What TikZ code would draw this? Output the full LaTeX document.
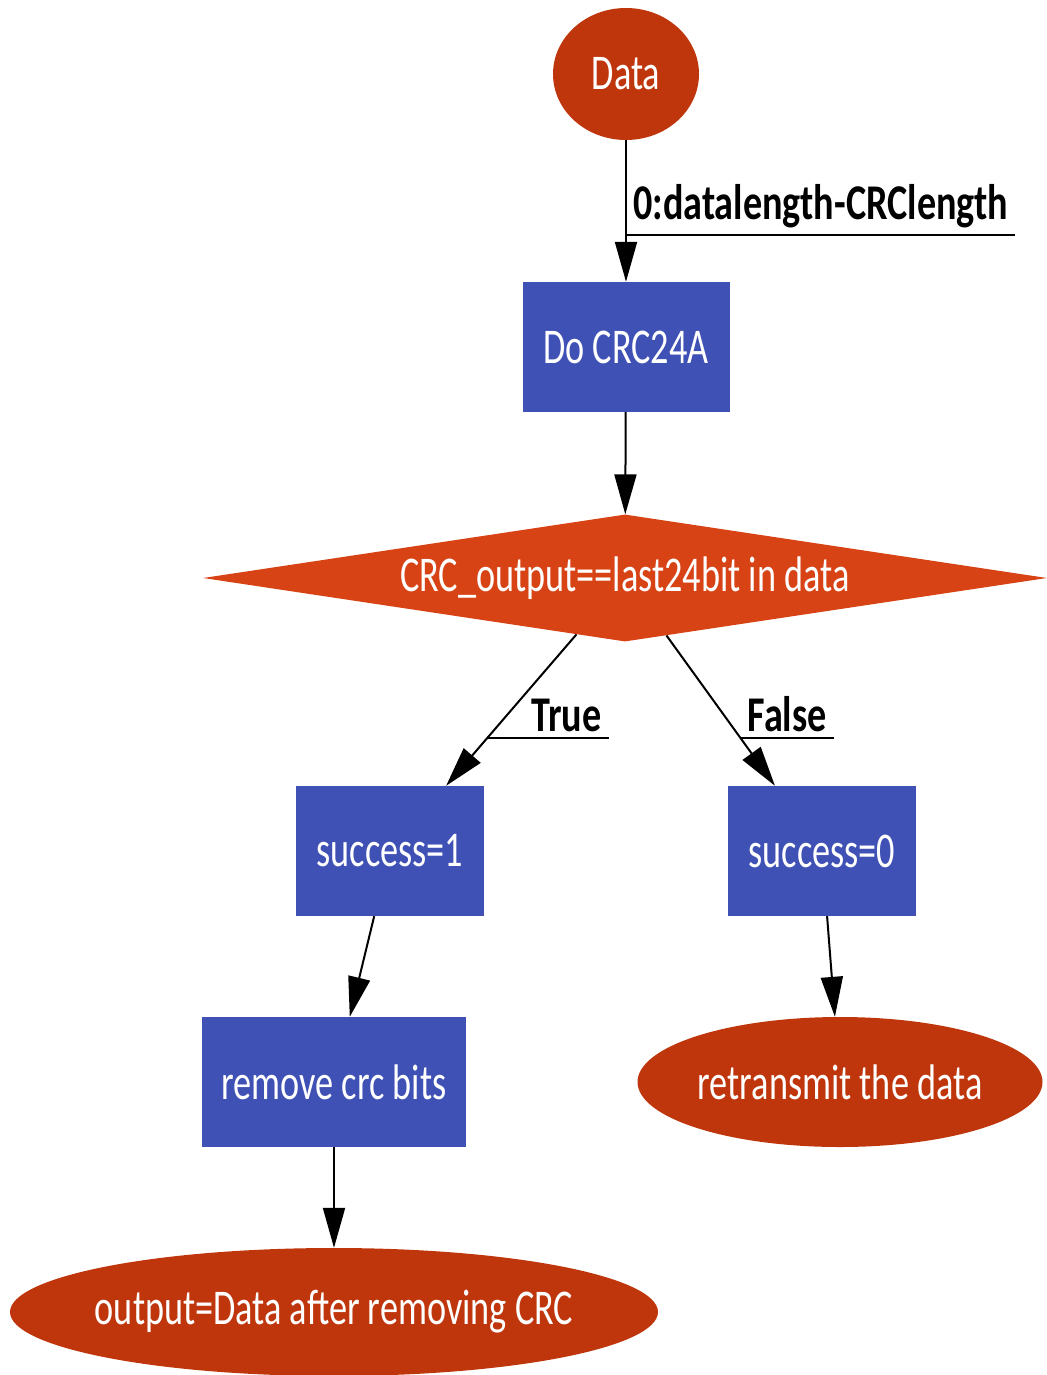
\documentclass[tikz,border=0pt]{standalone}
\usepackage{fontspec}
\setmainfont{Carlito}[FakeStretch=0.725]
\newfontfamily\edgefont{Carlito}[FakeStretch=0.763]
\usetikzlibrary{shapes.geometric,arrows.meta,calc}
\definecolor{boxblue}{HTML}{3F51B5}
\definecolor{termred}{HTML}{BF360C}
\definecolor{decorange}{HTML}{D84315}
% text of zero width, so that an ellipse keeps the size it is given
\newcommand{\zw}[1]{\makebox[0pt][c]{#1}}

\begin{document}
\begin{tikzpicture}[x=1pt,y=-1pt,
  every node/.style={inner sep=0pt},
  txt/.style={font=\fontsize{50}{60}\selectfont, text=white},
  proc/.style={txt, rectangle, fill=boxblue, minimum height=130pt},
  term/.style={txt, ellipse, fill=termred},
  decide/.style={txt, diamond, fill=decorange},
  lab/.style={font=\edgefont\fontsize{50}{60}\selectfont\bfseries, text=black,
    inner xsep=7pt, inner ysep=6pt},
  arr/.style={draw=black, line width=2pt, -{Triangle[length=40pt,width=22pt]}},
  uline/.style={draw=black, line width=2pt}]

\useasboundingbox (0,0) rectangle (1046,1375);

% nodes
\node[term, minimum width=146pt, minimum height=132pt] (data) at (626,74) {\zw{Data}};
\node[proc, minimum width=207pt] (crc) at (626,347) {Do CRC24A};
\node[decide, minimum width=844pt, minimum height=127pt, aspect=6.6] (cond) at (625,578)
  {CRC\_output==last24bit in data};
\node[proc, minimum width=188pt] (s1) at (390,851) {success=1};
\node[proc, minimum width=188pt] (s0) at (822,851) {success=0};
\node[proc, minimum width=264pt] (rm) at (334,1082) {remove crc bits};
\node[term, minimum width=405pt, minimum height=130pt] (rt) at (840,1082)
  {\zw{retransmit the data}};
\node[term, minimum width=648pt, minimum height=128pt] (out) at (334,1312)
  {\zw{output=Data after removing CRC}};

% connectors
\draw[arr] (data) -- (crc);
\draw[arr] (crc) -- (cond);
\draw[arr] (cond) -- (s1);
\draw[arr] (cond) -- (s0);
\draw[arr] (s1) -- (rm);
\draw[arr] (s0) -- (rt);
\draw[arr] (rm) -- (out);

% underlined edge labels
\coordinate (m0) at ($(data)!0.588!(crc)$);
\node[lab, anchor=south west] (l0) at (m0) {0:datalength-CRClength};
\draw[uline] (m0) -- (l0.south east);

\coordinate (mt) at ($(cond)!0.586!(s1)$);
\node[lab, anchor=south west] (lt) at ([xshift=37pt]mt) {True};
\draw[uline] (mt) -- (lt.south east);

\coordinate (mf) at ($(cond)!0.586!(s0)$);
\node[lab, anchor=south west] (lf) at (mf) {False};
\draw[uline] (mf) -- (lf.south east);

\end{tikzpicture}
\end{document}
